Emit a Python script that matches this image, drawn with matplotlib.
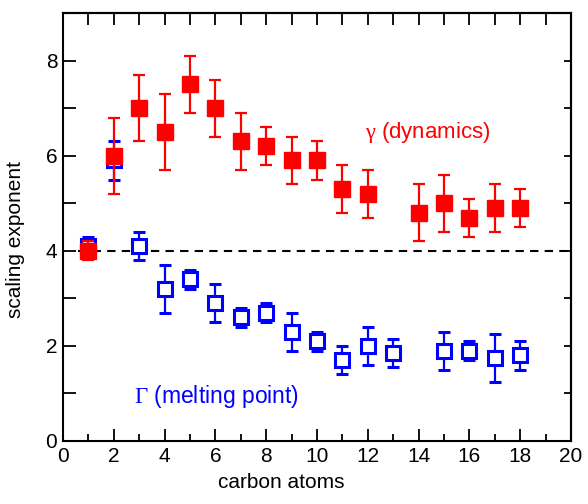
import numpy as np
import matplotlib
matplotlib.use('Agg')
import matplotlib.pyplot as plt
from matplotlib.ticker import MultipleLocator, NullFormatter

plt.rcParams['font.family'] = ['Liberation Sans', 'DejaVu Sans']
plt.rcParams['mathtext.fontset'] = 'custom'
plt.rcParams['mathtext.rm'] = 'Liberation Serif'
plt.rcParams['mathtext.it'] = 'Liberation Serif:italic'

# gamma (dynamics), filled red squares
gam_x = [1, 2, 3, 4, 5, 6, 7, 8, 9, 10, 11, 12, 14, 15, 16, 17, 18]
gam_y = [4.0, 6.0, 7.0, 6.5, 7.5, 7.0, 6.3, 6.2, 5.9, 5.9, 5.3, 5.2, 4.8, 5.0, 4.7, 4.9, 4.9]
gam_err = [0.2, 0.8, 0.7, 0.8, 0.6, 0.6, 0.6, 0.4, 0.5, 0.4, 0.5, 0.5, 0.6, 0.6, 0.4, 0.5, 0.4]

# Gamma (melting point), open blue squares
mel_x = [1, 2, 3, 4, 5, 6, 7, 8, 9, 10, 11, 12, 13, 15, 16, 17, 18]
mel_y = [4.1, 5.9, 4.1, 3.2, 3.4, 2.9, 2.6, 2.7, 2.3, 2.1, 1.7, 2.0, 1.85, 1.9, 1.9, 1.75, 1.8]
mel_err = [0.2, 0.4, 0.3, 0.5, 0.2, 0.4, 0.2, 0.2, 0.4, 0.2, 0.3, 0.4, 0.3, 0.4, 0.2, 0.5, 0.3]

fig = plt.figure(figsize=(5.88, 5.04), dpi=100)
ax = fig.add_axes([0.107, 0.125, 0.864, 0.849])

ax.axhline(4, xmin=0.03, xmax=1, color='black', lw=1.5, ls=(0, (4, 3)), zorder=1)

ax.errorbar(mel_x, mel_y, yerr=mel_err, fmt='s', color='#0000ff', mfc='white',
            mec='#0000ff', mew=2.2, ms=10, elinewidth=1.6, capsize=4, capthick=1.6, zorder=2)
ax.errorbar(gam_x, gam_y, yerr=gam_err, fmt='s', color='#ff0000', mfc='#ff0000',
            mec='#ff0000', ms=11, elinewidth=1.6, capsize=4, capthick=1.6, zorder=3)

ax.text(11.9, 6.48, r'$\mathrm{\gamma}$ (dynamics)', color='#ff0000', fontsize=16,
        va='center', ha='left')
ax.text(2.8, 0.93, r'$\mathrm{\Gamma}$ (melting point)', color='#0000ff', fontsize=16.5,
        va='center', ha='left')

ax.set_xlim(0, 20)
ax.set_ylim(0, 9)
ax.set_xlabel('carbon atoms', fontsize=15, labelpad=1)
ax.xaxis.set_label_coords(0.43, -0.075)
ax.set_ylabel('scaling exponent', fontsize=15, labelpad=6)
ax.yaxis.set_label_coords(-0.075, 0.47)

ax.xaxis.set_major_locator(MultipleLocator(2))
ax.xaxis.set_minor_locator(MultipleLocator(1))
ax.yaxis.set_major_locator(MultipleLocator(2))
ax.yaxis.set_minor_locator(MultipleLocator(1))
ax.tick_params(axis='x', which='major', direction='in', length=9, width=1.3, labelsize=15, pad=4)
ax.tick_params(axis='x', which='minor', direction='in', length=5, width=1.3)
ax.tick_params(axis='y', which='both', direction='in', length=9, width=1.3, labelsize=15, pad=4)

top = ax.secondary_xaxis('top')
top.xaxis.set_major_locator(MultipleLocator(1))
top.xaxis.set_major_formatter(NullFormatter())
top.tick_params(direction='in', length=8.5, width=1.3)

right = ax.secondary_yaxis('right')
right.yaxis.set_major_locator(MultipleLocator(1))
right.yaxis.set_major_formatter(NullFormatter())
right.tick_params(direction='in', length=5, width=1.3)

for sp in list(ax.spines.values()) + [top.spines['top'], right.spines['right']]:
    sp.set_linewidth(1.5)

fig.savefig('out.png', dpi=100)
